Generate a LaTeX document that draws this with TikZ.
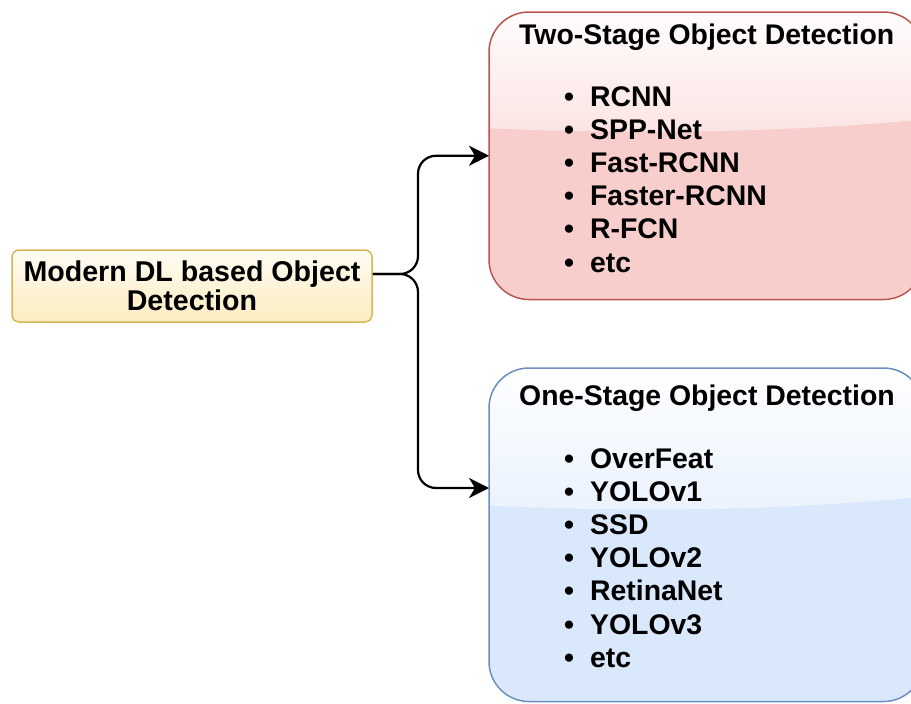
\documentclass[tikz,border=0pt]{standalone}
\usepackage{fontspec}
\setmainfont{Liberation Sans}
\usepackage{tikz}
\usetikzlibrary{arrows.meta,calc}

\definecolor{redfill}{HTML}{F8CECC}
\definecolor{redline}{HTML}{B85450}
\definecolor{bluefill}{HTML}{DAE8FC}
\definecolor{blueline}{HTML}{6C8EBF}
\definecolor{yellowfill}{HTML}{FFF2CC}
\definecolor{yellowline}{HTML}{D6B656}

\begin{document}
\begin{tikzpicture}[x=1pt,y=-1pt,
    bigtext/.style={font=\fontsize{28.4pt}{33.2pt}\selectfont\bfseries, inner sep=0pt},
    stagebox/.style={line width=1.5pt, rounded corners=40pt, minimum width=433pt, inner sep=0pt, anchor=north west},
    conn/.style={line width=2.2pt, rounded corners=18pt, -{Stealth[length=20pt,width=20pt,inset=6pt]}}]
    \useasboundingbox (0,0) rectangle (911,704);
    \clip (0,0) rectangle (911,704);

    % Left node
    \node[bigtext, draw=yellowline, line width=1.5pt, rounded corners=7pt,
          top color=yellowfill!25!white, bottom color=yellowfill!90!yellowline,
          minimum width=360pt, minimum height=72pt, align=center,
          font=\fontsize{28.6pt}{29pt}\selectfont\bfseries] (dl) at (192,286)
        {Modern DL based Object\\Detection};

    % Two-stage box
    \node[stagebox, fill=redfill, minimum height=286pt] (twostage) at (489,12) {};
    \begin{scope}
        \clip[rounded corners=40pt] (twostage.north west) rectangle (twostage.south east);
        \shade[top color=white, bottom color=redfill!55!white]
            (480,0) -- (940,0) -- (940,118) .. controls (780,134) and (620,134) .. (480,128) -- cycle;
    \end{scope}
    \draw[stagebox, draw=redline] (twostage.north west) rectangle (twostage.south east);
    \node[bigtext, anchor=base west] (twotitle) at (519,45) {Two-Stage Object Detection};
    \node[bigtext, anchor=base west] (twolist) at (564,106) {%
        \begin{tabular}[t]{@{}c@{\hspace{16pt}}l@{}}
            • & RCNN\\ • & SPP-Net\\ • & Fast-RCNN\\ • & Faster-RCNN\\ • & R-FCN\\ • & etc
        \end{tabular}};

    % One-stage box
    \node[stagebox, fill=bluefill, minimum height=332pt] (onestage) at (489,368) {};
    \begin{scope}
        \clip[rounded corners=40pt] (onestage.north west) rectangle (onestage.south east);
        \shade[top color=white, bottom color=bluefill!55!white]
            (480,360) -- (940,360) -- (940,495) .. controls (780,512) and (620,512) .. (480,505) -- cycle;
    \end{scope}
    \draw[stagebox, draw=blueline] (onestage.north west) rectangle (onestage.south east);
    \node[bigtext, anchor=base west] (onetitle) at (519,405) {One-Stage Object Detection};
    \node[bigtext, anchor=base west] (onelist) at (564,468) {%
        \begin{tabular}[t]{@{}c@{\hspace{16pt}}l@{}}
            • & OverFeat\\ • & YOLOv1\\ • & SSD\\ • & YOLOv2\\ • & RetinaNet\\ • & YOLOv3\\ • & etc
        \end{tabular}};

    % Connectors
    \coordinate (split) at (418,274);
    \draw[conn] ([yshift=12pt]dl.east) -- (split) |- (twostage.west);
    \draw[conn] ([yshift=12pt]dl.east) -- (split) |- ([yshift=-120pt]onestage.north west);
\end{tikzpicture}
\end{document}
